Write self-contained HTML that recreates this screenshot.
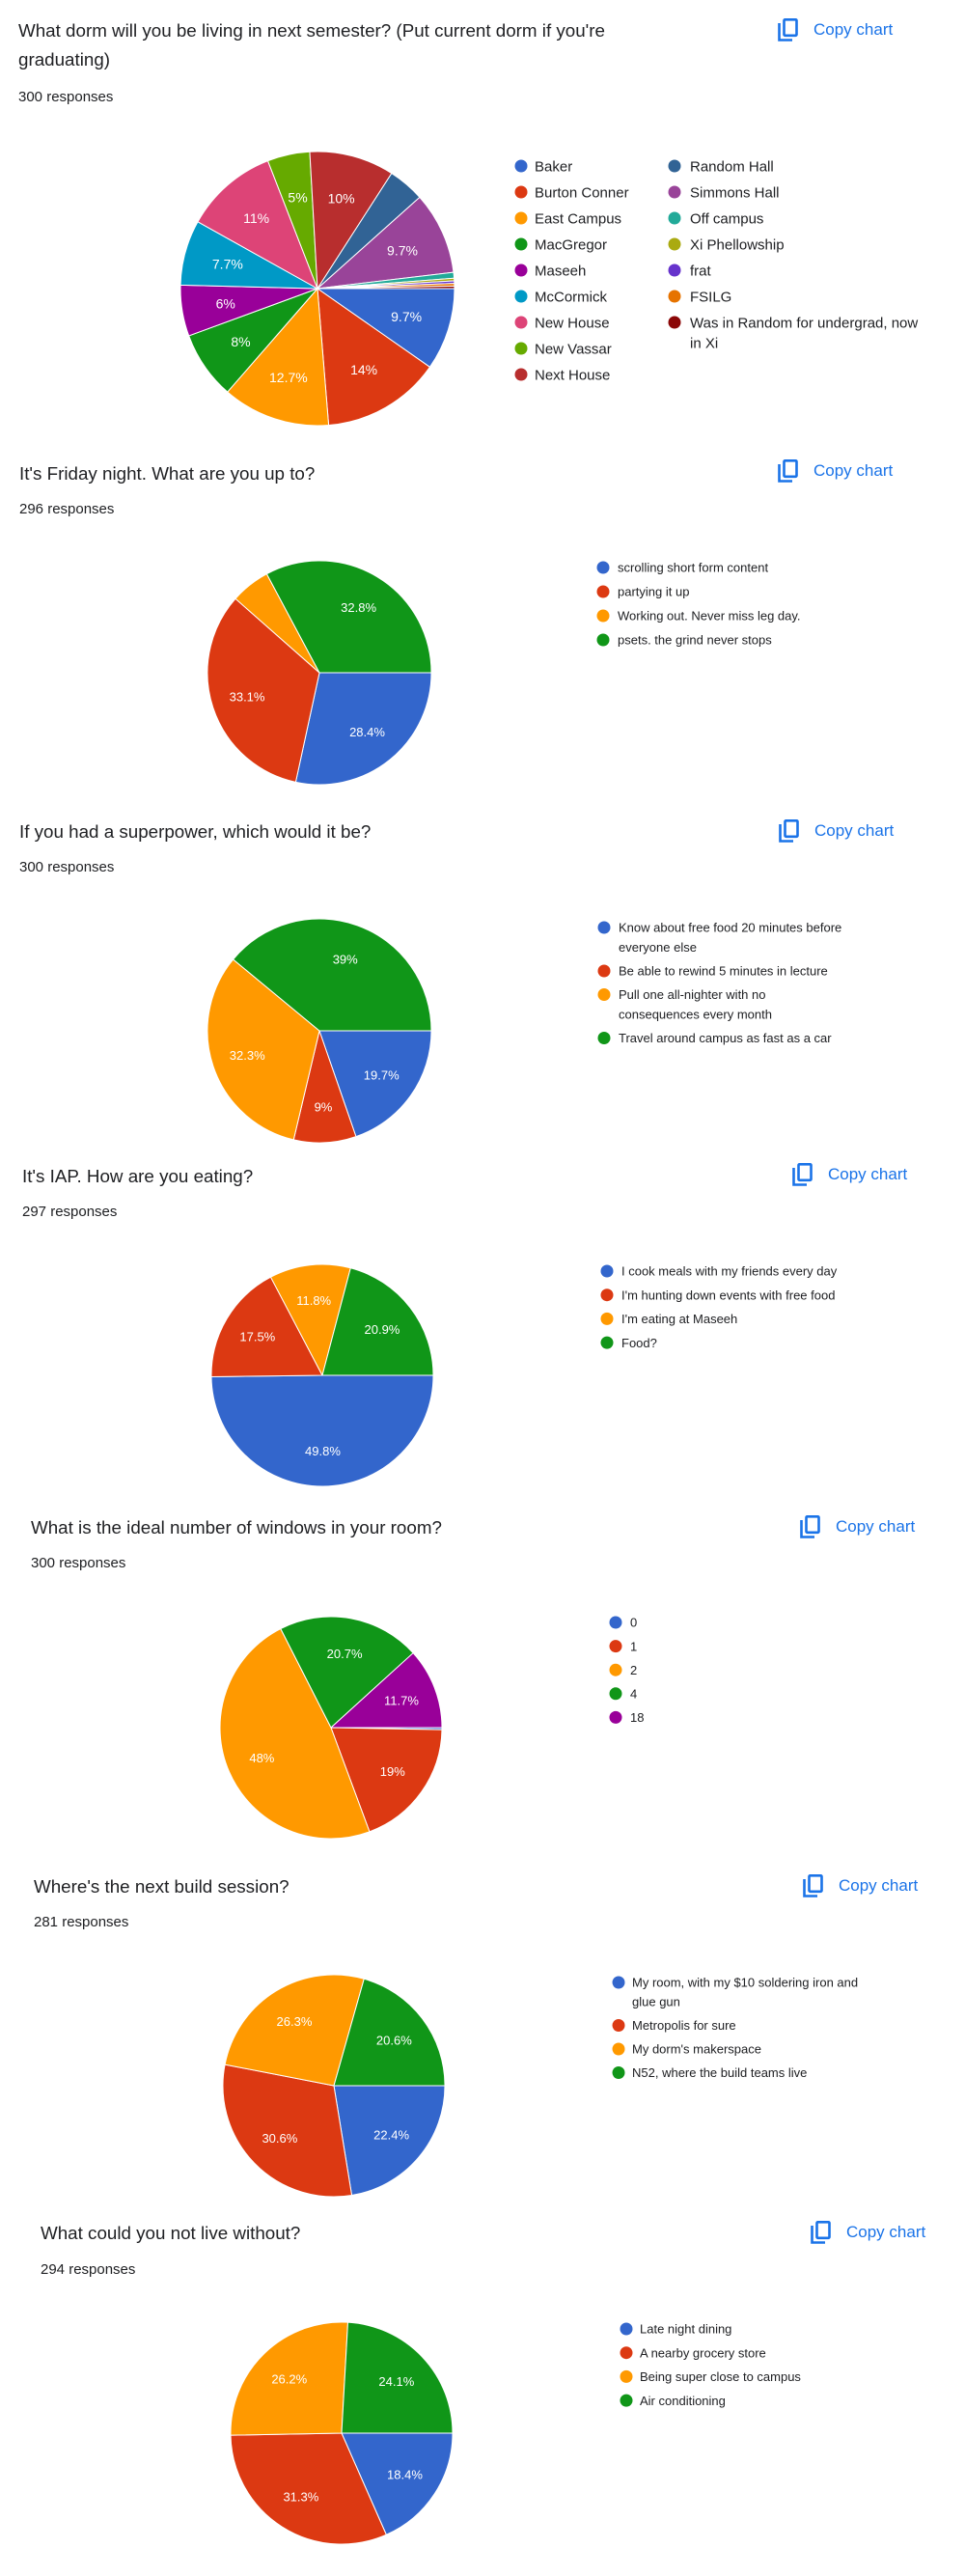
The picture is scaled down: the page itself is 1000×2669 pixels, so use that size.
<!DOCTYPE html>
<html><head><meta charset="utf-8"><title>Survey results</title>
<style>
html,body{margin:0;padding:0;background:#fff;}
svg{display:block;font-family:"Liberation Sans",Arial,sans-serif;}
</style></head>
<body>
<svg id="page" width="1000" height="2669" viewBox="0 0 1000 2669" xmlns="http://www.w3.org/2000/svg"></svg>
<script>
// ---- data ----
const dormCategories = ["Baker","Burton Conner","East Campus","MacGregor","Maseeh","McCormick","New House","New Vassar","Next House","Random Hall","Simmons Hall","Off campus","Xi Phellowship","frat","FSILG","Was in Random for undergrad, now\nin Xi"];
const dormValues = [9.7,14,12.7,8,6,7.7,11,5,10,4.3,9.7,0.7,0.3,0.3,0.3,0.3];
const fridayCategories = ["scrolling short form content","partying it up","Working out. Never miss leg day.","psets. the grind never stops"];
const fridayValues = [28.4,33.1,5.7,32.8];
const superCategories = ["Know about free food 20 minutes before\neveryone else","Be able to rewind 5 minutes in lecture","Pull one all-nighter with no\nconsequences every month","Travel around campus as fast as a car"];
const superValues = [19.7,9,32.3,39];
const iapCategories = ["I cook meals with my friends every day","I'm hunting down events with free food","I'm eating at Maseeh","Food?"];
const iapValues = [49.8,17.5,11.8,20.9];
const windowCategories = ["0","1","2","4","18"];
const windowValues = [0.3,19,48,20.7,11.7];
const buildCategories = ["My room, with my $10 soldering iron and\nglue gun","Metropolis for sure","My dorm's makerspace","N52, where the build teams live"];
const buildValues = [22.4,30.6,26.3,20.6];
const noliveCategories = ["Late night dining","A nearby grocery store","Being super close to campus","Air conditioning"];
const noliveValues = [18.4,31.3,26.2,24.1];
const palette = ["#3366cc","#dc3912","#ff9900","#109618","#990099","#0099c6","#dd4477","#66aa00","#b82e2e","#316395","#994499","#22aa99","#aaaa11","#6633cc","#e67300","#8b0707"];

const charts = [
 {id:"dorm",title:["What dorm will you be living in next semester? (Put current dorm if you're","graduating)"],resp:"300 responses",tx:19,ty:32,ry:100,copyX:806,copyY:30,cx:329,cy:299,r:142,cats:dormCategories,vals:dormValues,lfs:15,lblfs:14,cols:[{dx:540,tx:554,n:9},{dx:699,tx:715,n:7}],ly:172,lstep:27,lwrap:21},
 {id:"friday",title:["It's Friday night. What are you up to?"],resp:"296 responses",tx:20,ty:491,ry:527,copyX:806,copyY:487,cx:331,cy:697,r:116,cats:fridayCategories,vals:fridayValues,lfs:13,lblfs:13,cols:[{dx:625,tx:640,n:4}],ly:588,lstep:25,lwrap:20},
 {id:"superpower",title:["If you had a superpower, which would it be?"],resp:"300 responses",tx:20,ty:862,ry:898,copyX:807,copyY:860,cx:331,cy:1068,r:116,cats:superCategories,vals:superValues,lfs:13,lblfs:13,cols:[{dx:626,tx:641,n:4}],ly:961,lstep:24.5,lwrap:20.5},
 {id:"iap",title:["It's IAP. How are you eating?"],resp:"297 responses",tx:23,ty:1219,ry:1255,copyX:821,copyY:1216,cx:334,cy:1425,r:115,cats:iapCategories,vals:iapValues,lfs:13,lblfs:13,cols:[{dx:629,tx:644,n:4}],ly:1317,lstep:24.7,lwrap:20},
 {id:"windows",title:["What is the ideal number of windows in your room?"],resp:"300 responses",tx:32,ty:1583,ry:1619,copyX:829,copyY:1581,cx:343,cy:1790,r:115,cats:windowCategories,vals:windowValues,lfs:13,lblfs:13,cols:[{dx:638,tx:653,n:5}],ly:1681,lstep:24.6,lwrap:20},
 {id:"build",title:["Where's the next build session?"],resp:"281 responses",tx:35,ty:1955,ry:1991,copyX:832,copyY:1953,cx:346,cy:2161,r:115,cats:buildCategories,vals:buildValues,lfs:13,lblfs:13,cols:[{dx:641,tx:655,n:4}],ly:2054,lstep:24.5,lwrap:20},
 {id:"nolive",title:["What could you not live without?"],resp:"294 responses",tx:42,ty:2314,ry:2351,copyX:840,copyY:2312,cx:354,cy:2521,r:115,cats:noliveCategories,vals:noliveValues,lfs:13,lblfs:13,cols:[{dx:649,tx:663,n:4}],ly:2413,lstep:24.7,lwrap:20}
];

const NS = "http://www.w3.org/2000/svg";
const page = document.getElementById("page");
function mk(tag, attrs, parent){const e=document.createElementNS(NS,tag);for(const k in attrs)e.setAttribute(k,attrs[k]);parent.appendChild(e);return e;}

charts.forEach(c=>{
  const g = mk("g",{},page);
  
  
  c.title.forEach((line,i)=>{
    const t = mk("text",{x:c.tx,y:c.ty+6+i*30,"font-size":18.8,fill:"#202124"},g);
    
    
    t.textContent=line;
  });
  const rt = mk("text",{x:c.tx,y:c.ry+5,"font-size":15,fill:"#202124"},g);
  
  
  rt.textContent=c.resp;
  const cb = mk("g",{cursor:"pointer"},g);
  
  
  const ix=c.copyX, iy=c.copyY-11;
  mk("path",{d:`M${ix+1.5} ${iy+5} V${iy+22.5} H${ix+15}`,fill:"none",stroke:"#1a73e8","stroke-width":2.6},cb);
  mk("rect",{x:ix+6.5,y:iy+1.3,width:13,height:16.5,fill:"none",stroke:"#1a73e8","stroke-width":2.6,rx:1},cb);
  const ct = mk("text",{x:ix+37,y:c.copyY+6,"font-size":17,fill:"#1a73e8"},cb);
  ct.textContent="Copy chart";
  const total = c.vals.reduce((a,b)=>a+b,0);
  let a0 = 0;
  c.vals.forEach((v,i)=>{
    const frac=v/total, a1=a0+frac*2*Math.PI;
    const x0=c.cx+c.r*Math.cos(a0), y0=c.cy+c.r*Math.sin(a0);
    const x1=c.cx+c.r*Math.cos(a1), y1=c.cy+c.r*Math.sin(a1);
    const large = (a1-a0)>Math.PI?1:0;
    const p = mk("path",{d:`M${c.cx} ${c.cy} L${x0} ${y0} A${c.r} ${c.r} 0 ${large} 1 ${x1} ${y1} Z`,fill:palette[i%palette.length],stroke:"#fff","stroke-width":1,"stroke-linejoin":"round"},g);
    
    
    const am=(a0+a1)/2, lr=c.r*0.68;
    if (lr*(a1-a0) >= 29) {
      const lt = mk("text",{x:c.cx+lr*Math.cos(am),y:c.cy+lr*Math.sin(am)+c.lblfs*0.36,"font-size":c.lblfs,fill:"#fff","text-anchor":"middle"},g);
      
      
      lt.textContent = v+"%";
    }
    a0=a1;
  });
  let idx=0;
  c.cols.forEach(col=>{
    let y=c.ly;
    for(let k=0;k<col.n && idx<c.cats.length;k++,idx++){
      const li = mk("g",{},g);
      
      
      mk("circle",{cx:col.dx,cy:y,r:6.5,fill:palette[idx%palette.length]},li);
      const lines=c.cats[idx].split("\n");
      lines.forEach((ln,j)=>{
        const t=mk("text",{x:col.tx,y:y+c.lfs*0.36+j*c.lwrap,"font-size":c.lfs,fill:"#202124"},li);
        t.textContent=ln;
      });
      y += c.lstep + (lines.length-1)*c.lwrap;
    }
  });
});
</script>
</body></html>
